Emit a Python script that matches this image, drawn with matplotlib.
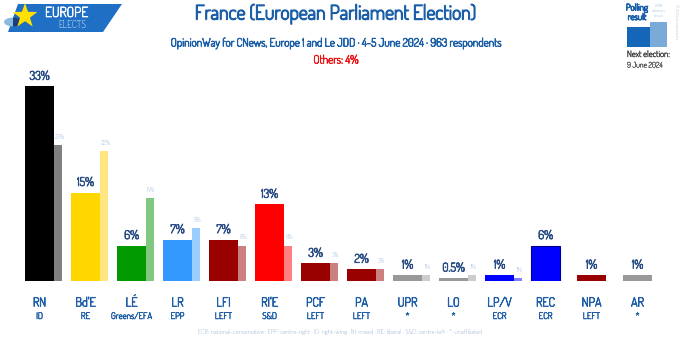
import matplotlib
matplotlib.use("Agg")
import matplotlib.pyplot as plt
from matplotlib.patches import Polygon, Rectangle, Wedge
import matplotlib.patheffects as pe
import matplotlib.transforms as mtransforms
import numpy as np

plt.rcParams['font.family'] = ['Dosis', 'DejaVu Sans']

parties = ["RN", "Bd'E", "LÉ", "LR", "LFI", "RI'E", "PCF", "PA", "UPR", "LO", "LP/V", "REC", "NPA", "AR"]
groups = ["ID", "RE", "Greens/EFA", "EPP", "LEFT", "S&D", "LEFT", "LEFT", "*", "*", "ECR", "ECR", "LEFT", "*"]
poll = [33, 15, 6, 7, 7, 13, 3, 2, 1, 0.5, 1, 6, 1, 1]
poll_labels = ["33%", "15%", "6%", "7%", "7%", "13%", "3%", "2%", "1%", "0.5%", "1%", "6%", "1%", "1%"]
prev = [23, 22, 14, 9, 6, 6, 3, 2, 1, 1, 0.5, None, None, None]
prev_labels = ["23%", "22%", "14%", "9%", "6%", "6%", "3%", "2%", "1%", "1%", "1%", "", "", ""]
colors = ["#000000", "#FFD700", "#009900", "#3399FF", "#990000", "#FF0000", "#990000", "#990000",
          "#999999", "#999999", "#0000FF", "#0000FF", "#990000", "#999999"]
prev_colors = ["#808080", "#FFE680", "#80C880", "#99CCFF", "#CC8080", "#FF8080", "#CC8080", "#CC8080",
               "#CCCCCC", "#CCCCCC", "#8080FF", None, None, None]

W, H = 680, 337
fig = plt.figure(figsize=(6.8, 3.37), dpi=100)
fig.patch.set_facecolor("white")

def fx(px):
    return np.asarray(px) / W

def fy(py):
    return 1 - np.asarray(py) / H

def bold(color, lw=0.6):
    return [pe.withStroke(linewidth=lw, foreground=color)]

# main axes
ax = fig.add_axes([fx(16.5), fy(281), 644 / W, 206.5 / H])
ax.set_xlim(-0.5, 13.5)
ax.set_ylim(0, 35)
ax.axis("off")

x = np.arange(len(parties))
mw = 0.63
pw = 0.175
vcol = "#2A4E85"
for i in range(len(parties)):
    ec = "#00008B" if i == 11 else "none"
    ax.bar(x[i], poll[i], width=mw, color=colors[i], edgecolor=ec, linewidth=0.8, zorder=3)
    if prev[i] is not None:
        ax.bar(x[i] + mw / 2 + pw / 2, prev[i], width=pw, color=prev_colors[i], zorder=2)
        ax.text(x[i] + mw / 2 + pw / 2 + 0.03, prev[i] + 0.9, prev_labels[i], ha="center", va="bottom",
                fontsize=4.4, color="#7FA3D0", style="italic")
    ax.text(x[i], poll[i] + 0.6, poll_labels[i], ha="center", va="bottom",
            fontsize=8.6, color=vcol, path_effects=bold(vcol, 0.6))

pcol = "#1F5FA8"
trans = mtransforms.blended_transform_factory(ax.transData, fig.transFigure)
for i in range(len(parties)):
    ax.text(x[i], fy(303), parties[i], ha="center", va="center", fontsize=9,
            color=pcol, path_effects=bold(pcol, 0.6), transform=trans)
    ax.text(x[i], fy(317), groups[i], ha="center", va="center", fontsize=6.5,
            color=pcol, path_effects=bold(pcol, 0.4), transform=trans)

fig.text(0.5, fy(332), "ECR: national-conservative · EPP: centre-right · ID: right-wing · NI: mixed · RE: liberal · S&D: centre-left · *: unaffiliated",
         ha="center", va="center", fontsize=4.8, color="#7F9CC4")

# titles
tcol = "#1B5FA8"
fig.text(fx(336), fy(14), "France (European Parliament Election)", ha="center", va="center",
         fontsize=14.3, color=tcol, path_effects=bold(tcol, 1.0))
fig.text(fx(336), fy(43), "OpinionWay for CNews, Europe 1 and Le JDD · 4-5 June 2024 · 963 respondents",
         ha="center", va="center", fontsize=8.2, color=tcol, path_effects=bold(tcol, 0.6))
fig.text(fx(336), fy(60), "Others: 4%", ha="center", va="center", fontsize=8.2, color="#EE1111",
         path_effects=bold("#EE1111", 0.5))

# logo
logo = Polygon(list(zip(fx([18, 122, 103, 8]), fy([4, 4, 32, 32]))),
               closed=True, transform=fig.transFigure, facecolor="#1F6FC5", edgecolor="none")
fig.patches.append(logo)
fig.patches.append(Wedge((fx(13), fy(22)), 9 / W, 90, 270, transform=fig.transFigure, facecolor="#8DB8E0"))
fig.patches.append(Wedge((fx(13), fy(22)), 9 / W, 270, 90, transform=fig.transFigure, facecolor="#1A3F7A"))
ang = np.deg2rad(90 + np.arange(10) * 36)
rad = np.where(np.arange(10) % 2 == 0, 13, 5.2)
sx = 25 + rad * np.cos(ang)
sy = 16 - rad * np.sin(ang)
fig.patches.append(Polygon(list(zip(fx(sx), fy(sy))), closed=True, transform=fig.transFigure,
                           facecolor="#FFE000", edgecolor="none"))
fig.text(fx(45), fy(13), "EUROPE", ha="left", va="center", fontsize=10, color="white",
         path_effects=bold("white", 0.5))
fig.text(fx(58), fy(25.5), "ELECTS", ha="left", va="center", fontsize=7, color="white")

# legend top right
fig.patches.append(Rectangle((fx(627), fy(47)), 23 / W, 20 / H, transform=fig.transFigure,
                             facecolor="#1565B8", edgecolor="none"))
fig.patches.append(Rectangle((fx(650), fy(47)), 17 / W, 25 / H, transform=fig.transFigure,
                             facecolor="#7AAAD8", edgecolor="none"))
fig.text(fx(637), fy(8.5), "Polling", ha="center", va="center", fontsize=6.5, color=tcol,
         path_effects=bold(tcol, 0.7))
fig.text(fx(637), fy(18), "result", ha="center", va="center", fontsize=6.5, color=tcol,
         path_effects=bold(tcol, 0.7))
fig.text(fx(659), fy(11), "2019\nelection\nresult", ha="center", va="center", fontsize=3.4, color="#6A98CC",
         linespacing=1.4)
fig.text(fx(627), fy(55), "Next election:", ha="left", va="center", fontsize=6.3, color="#444444",
         path_effects=bold("#444444", 0.3))
fig.text(fx(627), fy(65.5), "9 June 2024", ha="left", va="center", fontsize=5.5, color="#444444",
         path_effects=bold("#444444", 0.2))
fig.text(fx(676), fy(22), "© 2024 europeelects", ha="center", va="center", fontsize=3.3, color="#8FA8C8",
         rotation=-90)

fig.savefig("out.png", dpi=100, facecolor="white")
